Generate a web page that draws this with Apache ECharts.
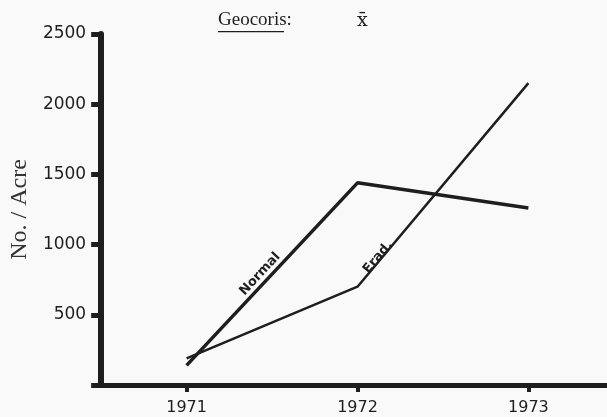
<!DOCTYPE html>
<html>
<head>
<meta charset="utf-8">
<script src="https://cdn.jsdelivr.net/npm/echarts@6/dist/echarts.min.js"></script>
<style>
  html, body { margin: 0; padding: 0; background: #f9f9f9; }
  #chart { width: 607px; height: 417px; }
</style>
</head>
<body>
<div id="chart"></div>
<script>
// data
const years = [1971, 1972, 1973];
const normalValues = [140, 1440, 1260];
const eradValues = [190, 700, 2150];
const yTicks = [500, 1000, 1500, 2000, 2500];

const ink = '#1e1e1e';
const chart = echarts.init(document.getElementById('chart'));

const option = {
    backgroundColor: '#f9f9f9',
    animation: false,
    graphic: [
        {
            type: 'text',
            left: 218,
            top: 11,
            style: { text: 'Geocoris:', font: '19px "Liberation Serif"', fill: ink }
        },
        {
            type: 'rect',
            left: 218,
            top: 31,
            shape: { width: 66, height: 1.3 },
            style: { fill: ink }
        },
        {
            type: 'text',
            left: 357,
            top: 12,
            style: { text: 'x\u0304', font: '19px "DejaVu Serif"', fill: ink }
        }
    ],
    grid: { left: 100, right: 0, top: 34, bottom: 32 },
    xAxis: {
        type: 'value',
        min: 1970.5,
        max: 1973.46,
        splitLine: { show: false },
        axisLine: { lineStyle: { color: ink, width: 5 } },
        axisTick: {
            customValues: years,
            length: 7,
            lineStyle: { color: ink, width: 4 }
        },
        axisLabel: {
            customValues: years,
            formatter: (v) => String(v),
            margin: 15,
            color: ink,
            fontFamily: 'DejaVu Sans',
            fontSize: 16
        }
    },
    yAxis: {
        type: 'value',
        min: 0,
        max: 2500,
        interval: 500,
        name: 'No. / Acre',
        nameLocation: 'middle',
        nameGap: 69,
        nameTextStyle: { fontFamily: 'Liberation Serif', fontSize: 24, color: '#333' },
        splitLine: { show: false },
        axisLine: { show: true, lineStyle: { color: ink, width: 6 } },
        axisTick: {
            show: true,
            length: 10,
            lineStyle: { color: ink, width: 5 }
        },
        axisLabel: {
            formatter: (v) => (yTicks.includes(v) ? String(v) : ''),
            margin: 15,
            color: ink,
            fontFamily: 'DejaVu Sans',
            fontSize: 17
        }
    },
    series: [
        {
            name: 'Normal',
            type: 'line',
            data: years.map((y, i) => [y, normalValues[i]]),
            symbol: 'none',
            lineStyle: { color: ink, width: 3.5 },
            markPoint: {
                symbol: 'circle',
                symbolSize: 0,
                label: {
                    show: true,
                    formatter: 'Normal',
                    rotate: 47,
                    color: ink,
                    fontFamily: 'DejaVu Sans',
                    fontWeight: 'bold',
                    fontSize: 13
                },
                data: [{ coord: [1971.43, 790] }]
            }
        },
        {
            name: 'Erad.',
            type: 'line',
            data: years.map((y, i) => [y, eradValues[i]]),
            symbol: 'none',
            lineStyle: { color: ink, width: 2.5 },
            markPoint: {
                symbol: 'circle',
                symbolSize: 0,
                label: {
                    show: true,
                    formatter: 'Erad.',
                    rotate: 50,
                    color: ink,
                    fontFamily: 'DejaVu Sans',
                    fontWeight: 'bold',
                    fontSize: 13
                },
                data: [{ coord: [1972.12, 910] }]
            }
        }
    ]
};

chart.setOption(option);
</script>
</body>
</html>
